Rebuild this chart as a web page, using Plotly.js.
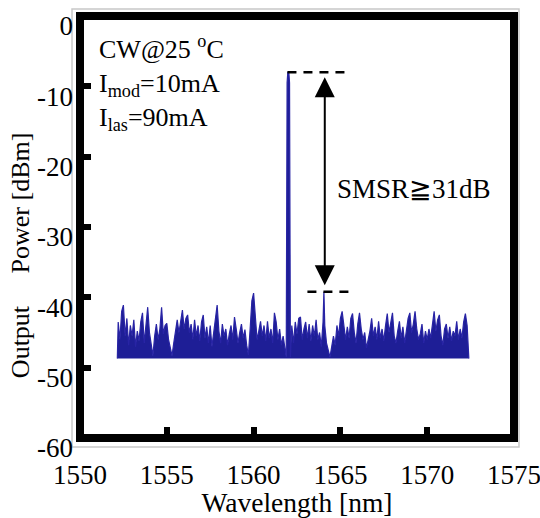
<!DOCTYPE html>
<html>
<head>
<meta charset="utf-8">
<script src="https://cdn.plot.ly/plotly-3.0.1.min.js"></script>
<style>
  html, body { margin: 0; padding: 0; background: #ffffff; }
  #chart { width: 540px; height: 518px; }
</style>
</head>
<body>
<div id="chart"></div>
<script>
// Optical spectrum of the laser in CW operation (wavelength in nm, power in dBm).
// The trace starts and ends on the noise floor so it can be closed as a filled outline.
const wavelengthNm = [
  1552.15,
  1552.2, 1552.3, 1552.4, 1552.5, 1552.6, 1552.7, 1552.8, 1552.9, 1553.0, 1553.1,
  1553.2, 1553.3, 1553.4, 1553.5, 1553.6, 1553.7, 1553.8, 1553.9, 1554.0, 1554.1,
  1554.2, 1554.3, 1554.4, 1554.5, 1554.6, 1554.7, 1554.8, 1554.9, 1555.0, 1555.1,
  1555.2, 1555.3, 1555.4, 1555.5, 1555.6, 1555.7, 1555.8, 1555.9, 1556.0, 1556.1,
  1556.2, 1556.3, 1556.4, 1556.5, 1556.6, 1556.7, 1556.8, 1556.9, 1557.0, 1557.1,
  1557.2, 1557.3, 1557.4, 1557.5, 1557.6, 1557.7, 1557.8, 1557.9, 1558.0, 1558.1,
  1558.2, 1558.3, 1558.4, 1558.5, 1558.6, 1558.7, 1558.8, 1558.9, 1559.0, 1559.1,
  1559.2, 1559.3, 1559.4, 1559.5, 1559.6, 1559.7, 1559.8, 1559.9, 1560.0, 1560.1,
  1560.2, 1560.3, 1560.4, 1560.5, 1560.6, 1560.7, 1560.8, 1560.9, 1561.0, 1561.1,
  1561.2, 1561.3, 1561.4, 1561.5, 1561.6, 1561.7, 1561.8, 1561.88,
  1561.93, 1561.97, 1562.03, 1562.07,
  1562.12,
  1562.2, 1562.3, 1562.4, 1562.5, 1562.6, 1562.7, 1562.8, 1562.9, 1563.0, 1563.1,
  1563.2, 1563.3, 1563.4, 1563.5, 1563.6, 1563.7, 1563.8, 1563.9, 1564.0, 1564.05,
  1564.1, 1564.2, 1564.3, 1564.4, 1564.5, 1564.6, 1564.7, 1564.8, 1564.9, 1565.0,
  1565.1, 1565.2, 1565.3, 1565.4, 1565.5, 1565.6, 1565.7, 1565.8, 1565.9, 1566.0,
  1566.1, 1566.2, 1566.3, 1566.4, 1566.5, 1566.6, 1566.7, 1566.8, 1566.9, 1567.0,
  1567.1, 1567.2, 1567.3, 1567.4, 1567.5, 1567.6, 1567.7, 1567.8, 1567.9, 1568.0,
  1568.1, 1568.2, 1568.3, 1568.4, 1568.5, 1568.6, 1568.7, 1568.8, 1568.9, 1569.0,
  1569.1, 1569.2, 1569.3, 1569.4, 1569.5, 1569.6, 1569.7, 1569.8, 1569.9, 1570.0,
  1570.1, 1570.2, 1570.3, 1570.4, 1570.5, 1570.6, 1570.7, 1570.8, 1570.9, 1571.0,
  1571.1, 1571.2, 1571.3, 1571.4, 1571.5, 1571.6, 1571.7, 1571.8, 1571.9, 1572.0,
  1572.1, 1572.2, 1572.3, 1572.35, 1572.4
];

const powerDbm = [
  -48.7,
  -43.5, -46.0, -42.0, -41.1, -45.5, -43.0, -46.8, -44.0, -45.5, -43.2,
  -47.0, -44.8, -46.2, -43.5, -42.2, -46.5, -44.0, -41.4, -45.0, -46.8,
  -48.3, -45.5, -43.8, -46.0, -44.5, -41.4, -45.2, -44.0, -43.7, -46.0,
  -47.0, -48.3, -46.5, -44.8, -43.2, -45.0, -43.0, -41.8, -44.5, -43.0,
  -42.5, -45.0, -43.8, -46.0, -43.2, -45.5, -44.0, -46.2, -43.5, -42.5,
  -45.8, -44.2, -46.5, -44.0, -47.0, -45.0, -42.5, -41.1, -44.8, -46.5,
  -43.8, -45.5, -44.5, -46.8, -45.2, -44.0, -46.0, -42.8, -44.5, -46.5,
  -45.0, -43.8, -45.8, -44.6, -46.8, -48.2, -44.5, -40.5, -39.4, -43.0,
  -46.0, -44.8, -43.4, -45.5, -44.0, -46.2, -43.4, -45.8, -44.5, -46.5,
  -42.2, -43.5, -46.0, -44.5, -46.8, -45.5, -47.5, -48.5,
  -9.5, -8.0, -8.0, -9.5,
  -48.5,
  -44.0, -46.5, -43.5, -45.2, -43.0, -42.8, -46.0, -44.5, -43.5, -45.8,
  -43.8, -46.2, -44.0, -45.5, -43.2, -46.0, -45.0, -47.0, -43.5, -39.2,
  -44.0, -46.5, -47.5, -48.5, -47.0, -45.5, -46.8, -44.0, -45.5, -43.0,
  -42.0, -44.5, -46.0, -44.2, -45.8, -43.0, -42.3, -45.0, -46.5, -43.8,
  -42.2, -44.5, -46.0, -45.0, -47.2, -46.0, -44.8, -43.0, -45.5, -44.2,
  -46.0, -43.4, -45.8, -44.5, -46.2, -44.0, -42.3, -45.0, -43.5, -42.2,
  -45.5, -46.5, -44.8, -43.4, -45.8, -44.2, -46.5, -44.5, -43.0, -42.2,
  -45.0, -43.8, -42.0, -44.5, -46.0, -45.2, -43.8, -46.5, -44.8, -46.0,
  -44.5, -45.8, -43.5, -42.0, -44.8, -43.2, -42.5, -45.5, -46.8, -44.5,
  -43.8, -45.8, -44.2, -46.2, -44.8, -45.5, -43.4, -46.0, -44.5, -45.8,
  -43.5, -42.3, -44.0, -46.0, -48.7
];

const xTickVals = [1550, 1555, 1560, 1565, 1570, 1575];
const yTickVals = [0, -10, -20, -30, -40, -50, -60];
const conditionLines = ['CW@25 <sup>o</sup>C', 'I<sub>mod</sub>=10mA', 'I<sub>las</sub>=90mA'];

// Lasing mode and strongest side mode, taken from the trace itself
const peakDbm = Math.max(...powerDbm);
let sideDbm = -Infinity, sideNm = null;
wavelengthNm.forEach((w, i) => {
  if (w > 1563 && w < 1565.5 && powerDbm[i] > sideDbm) { sideDbm = powerDbm[i]; sideNm = w; }
});
const smsrDb = Math.floor(peakDbm - sideDbm);

const SERIF = 'Liberation Serif, Times New Roman, serif';
const serifFont = (size) => ({ family: SERIF, size: size, color: '#000000' });
const traceBlue = 'rgb(30, 30, 150)';

const spectrum = {
  type: 'scatter',
  mode: 'lines',
  x: wavelengthNm,
  y: powerDbm,
  fill: 'toself',
  fillcolor: traceBlue,
  line: { color: 'rgb(40, 36, 165)', width: 1.2 },
  hoverinfo: 'skip',
  showlegend: false
};

const layout = {
  width: 540,
  height: 518,
  margin: { l: 80, r: 26, t: 16, b: 80, pad: 0 },
  paper_bgcolor: '#ffffff',
  plot_bgcolor: '#ffffff',
  font: serifFont(26),
  showlegend: false,
  xaxis: {
    range: [1550, 1575],
    tickmode: 'array',
    tickvals: xTickVals,
    ticktext: xTickVals.map(String),
    ticks: 'inside',
    ticklen: 11,
    tickwidth: 6,
    tickcolor: '#000',
    ticklabelstandoff: 18,
    ticklabeloverflow: 'allow',
    tickfont: serifFont(27),
    showgrid: false,
    zeroline: false,
    showline: false,
    automargin: false,
    title: { text: 'Wavelength [nm]', font: serifFont(27.5), standoff: 8 }
  },
  yaxis: {
    range: [-60, 0],
    tickmode: 'array',
    tickvals: yTickVals,
    ticktext: yTickVals.map(String),
    ticks: 'inside',
    ticklen: 11,
    tickwidth: 6,
    tickcolor: '#000',
    ticklabelstandoff: 6,
    ticklabelshift: 10,
    ticklabeloverflow: 'allow',
    tickfont: serifFont(27),
    showgrid: false,
    zeroline: false,
    showline: false,
    automargin: false
  },
  shapes: [
    // faint outer outline around the frame
    { type: 'rect', xref: 'paper', yref: 'paper', x0: -0.0184, x1: 1.0115, y0: -0.0213, y1: 1.0166,
      line: { color: '#c8c8c8', width: 1.5 }, layer: 'below' },
    // heavy plot frame
    { type: 'rect', xref: 'paper', yref: 'paper', x0: 0, x1: 1, y0: 0, y1: 1,
      line: { color: '#000', width: 8 } },
    // reference level of the lasing mode
    { type: 'line', xref: 'x', yref: 'y', x0: 1561.95, x1: 1565.45, y0: peakDbm, y1: peakDbm,
      line: { color: '#000', width: 2.5, dash: '9px,7px' } },
    // reference level of the strongest side mode
    { type: 'line', xref: 'x', yref: 'y', x0: 1563.1, x1: 1565.7, y0: sideDbm, y1: sideDbm,
      line: { color: '#000', width: 2.5, dash: '9px,7px' } }
  ],
  annotations: [
    {
      xref: 'paper', yref: 'paper', x: 0.04, y: 0.97,
      xanchor: 'left', yanchor: 'top', align: 'left', showarrow: false,
      text: conditionLines.join('<br>'),
      font: serifFont(26)
    },
    {
      xref: 'paper', yref: 'paper', x: -0.138, y: 0.4336,
      xanchor: 'center', yanchor: 'middle', textangle: -90, showarrow: false,
      text: 'Output\u00a0\u00a0\u00a0\u00a0\u00a0Power [dBm]',
      font: serifFont(26)
    },
    {
      // double-headed arrow spanning the side-mode suppression
      xref: 'x', yref: 'y', axref: 'x', ayref: 'y',
      x: sideNm + 0.05, y: peakDbm, ax: sideNm + 0.05, ay: sideDbm,
      text: '', showarrow: true,
      arrowhead: 2, startarrowhead: 2, arrowside: 'end+start',
      arrowsize: 2, startarrowsize: 2, arrowwidth: 2, arrowcolor: '#000',
      standoff: 5, startstandoff: 5
    },
    {
      xref: 'x', yref: 'y', x: 1564.7, y: (peakDbm + sideDbm) / 2 - 1.0,
      xanchor: 'left', yanchor: 'middle', showarrow: false,
      text: 'SMSR\u2267' + smsrDb + 'dB',
      font: serifFont(27)
    }
  ]
};

Plotly.newPlot('chart', [spectrum], layout, { staticPlot: true, displayModeBar: false });
</script>
</body>
</html>
